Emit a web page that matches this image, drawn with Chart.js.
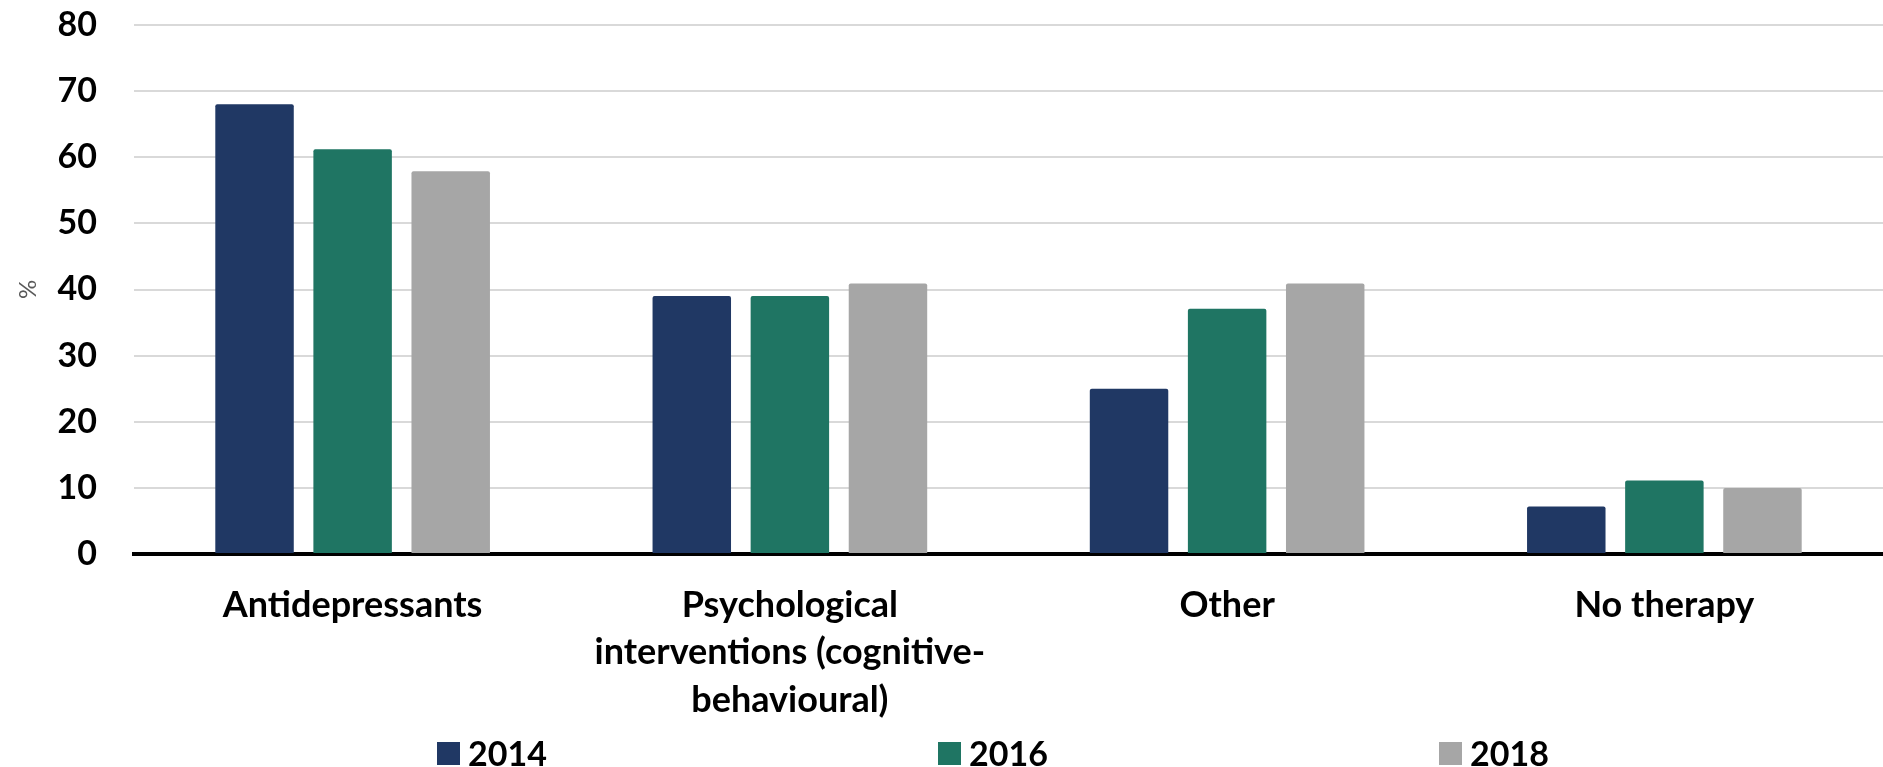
<!DOCTYPE html>
<html>
<head>
<meta charset="utf-8">
<script src="https://cdn.jsdelivr.net/npm/chart.js@4.4.1/dist/chart.umd.min.js"></script>
<style>
  html,body{margin:0;padding:0;background:#fff;}
  .wrap{position:relative;width:1883px;height:767px;}
  #legend{position:absolute;left:437px;top:736px;width:1112px;display:flex;justify-content:space-between;
    font:700 34px Lato, "Open Sans", sans-serif;color:#000;line-height:34px;}
  #legend .item{display:flex;align-items:center;}
  #legend .box{width:23px;height:23px;margin-right:8px;}
</style>
</head>
<body>
<div class="wrap">
  <canvas id="chart" width="1883" height="767"></canvas>
  <div id="legend"></div>
</div>
<script>
// -------- DATA ----------
const categories = [
  'Antidepressants',
  ['Psychological', 'interventions (cognitive-', 'behavioural)'],
  'Other',
  'No therapy'
];
const years  = ['2014', '2016', '2018'];
const v2014  = [68, 39, 25, 7.2];
const v2016  = [61.2, 39, 37.1, 11.1];
const v2018  = [57.9, 40.9, 40.9, 10];
const yTicks = [0, 10, 20, 30, 40, 50, 60, 70, 80];

const colors = ['#203864', '#1f7563', '#a6a6a6'];
const FONT = 'Lato, "Open Sans", sans-serif';

// -------- CHART ----------
const ctx = document.getElementById('chart').getContext('2d');
const chart = new Chart(ctx, {
  type: 'bar',
  data: {
    labels: categories,
    datasets: [v2014, v2016, v2018].map((d, i) => ({
      label: years[i],
      data: d,
      backgroundColor: colors[i],
      borderColor: colors[i],
      borderWidth: 0,
      borderRadius: 2,
      barPercentage: 0.8,
      categoryPercentage: 0.673
    }))
  },
  options: {
    responsive: false,
    animation: false,
    layout: {padding: {top: 25, right: 0, bottom: 0, left: 0}},
    plugins: {
      legend: {display: false},
      tooltip: {enabled: false}
    },
    scales: {
      x: {
        grid: {display: false, drawTicks: false},
        border: {display: true, color: '#000', width: 4},
        ticks: {
          color: '#000',
          font: {family: FONT, size: 36, weight: '700', lineHeight: 1.31},
          padding: 28,
          maxRotation: 0,
          autoSkip: false
        },
        afterFit: s => { s.height = 767 - 554; }
      },
      y: {
        min: 0,
        max: 80,
        afterBuildTicks: s => { s.ticks = yTicks.map(v => ({value: v})); },
        // invisible tick marks give the label gap without extra top padding
        grid: {color: '#d9d9d9', lineWidth: 2, drawTicks: true, tickLength: 37, tickColor: 'rgba(0,0,0,0)'},
        border: {display: false},
        ticks: {
          color: '#000',
          font: {family: FONT, size: 34, weight: '700', lineHeight: 1.2},
          padding: 0
        },
        title: {
          display: true,
          text: '%',
          color: '#595959',
          font: {family: FONT, size: 24, weight: '400'},
          padding: {top: 14, bottom: 0}
        },
        afterFit: s => { s.width = 134; }
      }
    }
  }
});

// -------- HTML LEGEND ----------
const legendEl = document.getElementById('legend');
chart.data.datasets.forEach(ds => {
  const item = document.createElement('div');
  item.className = 'item';
  const box = document.createElement('span');
  box.className = 'box';
  box.style.background = ds.backgroundColor;
  const txt = document.createElement('span');
  txt.textContent = ds.label;
  item.appendChild(box);
  item.appendChild(txt);
  legendEl.appendChild(item);
});
</script>
</body>
</html>
